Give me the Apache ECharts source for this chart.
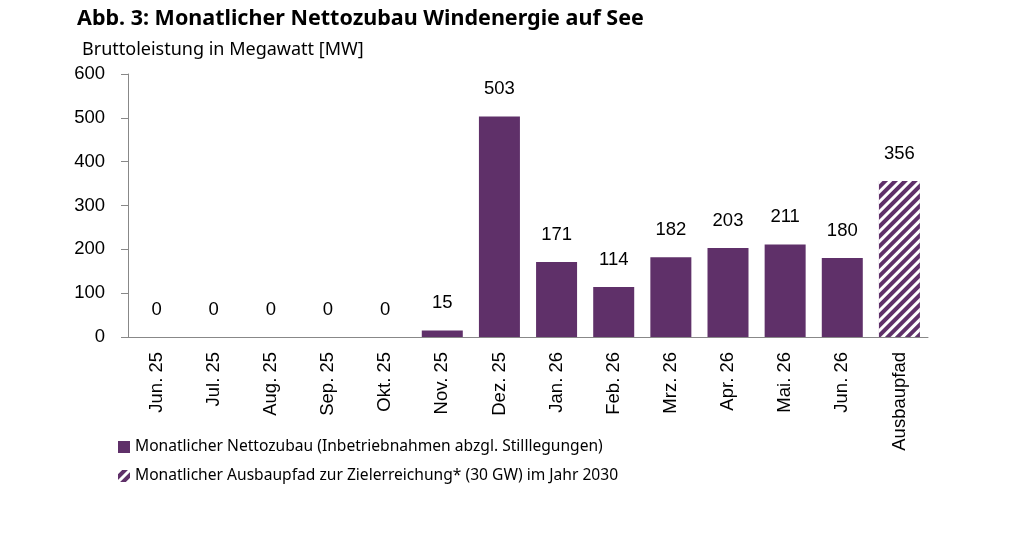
<!DOCTYPE html>
<html>
<head>
<meta charset="utf-8">
<script src="https://cdn.jsdelivr.net/npm/echarts@6/dist/echarts.min.js"></script>
<style>
  html, body { margin: 0; padding: 0; background: #fff; }
  #chart { width: 1024px; height: 559px; }
</style>
</head>
<body>
<div id="chart"></div>
<script>
// Monate + Ausbaupfad
const categories = ["Jun. 25", "Jul. 25", "Aug. 25", "Sep. 25", "Okt. 25", "Nov. 25", "Dez. 25",
  "Jan. 26", "Feb. 26", "Mrz. 26", "Apr. 26", "Mai. 26", "Jun. 26", "Ausbaupfad"];
// Nettozubau je Monat in MW
const nettozubau = [0, 0, 0, 0, 0, 15, 503, 171, 114, 182, 203, 211, 180, "-"];
// Ausbaupfad (nur letzte Kategorie)
const ausbaupfad = ["-", "-", "-", "-", "-", "-", "-", "-", "-", "-", "-", "-", "-", 356];
const yTicks = [0, 100, 200, 300, 400, 500, 600];

const lila = "#5f3069";
const labelFont = "'Liberation Sans', Arial, sans-serif";
const textFont = "'Noto Sans', sans-serif";

let chart = echarts.init(document.getElementById("chart"));
chart.setOption({
  animation: false,
  title: [
    {
      text: "Abb. 3: Monatlicher Nettozubau Windenergie auf See",
      left: 72, top: 3,
      textStyle: { fontFamily: textFont, fontSize: 21.5, fontWeight: "bold", color: "#000" }
    },
    {
      text: "Bruttoleistung in Megawatt [MW]",
      left: 77, top: 36,
      textStyle: { fontFamily: textFont, fontSize: 18, fontWeight: "normal", color: "#000" }
    }
  ],
  legend: {
    orient: "vertical",
    left: 113, top: 434,
    itemWidth: 12, itemHeight: 12, itemGap: 13,
    icon: "rect",
    textStyle: { fontFamily: textFont, fontSize: 15.6, color: "#000" },
    data: ["Monatlicher Nettozubau (Inbetriebnahmen abzgl. Stilllegungen)",
      "Monatlicher Ausbaupfad zur Zielerreichung* (30 GW) im Jahr 2030"]
  },
  grid: { left: 128, right: 96, top: 74, bottom: 222 },
  xAxis: {
    type: "category",
    data: categories,
    axisLine: { lineStyle: { color: "#888", width: 1 } },
    axisTick: { show: false },
    axisLabel: { rotate: 90, margin: 15, fontFamily: labelFont, fontSize: 18.5, color: "#000" }
  },
  yAxis: {
    type: "value",
    min: yTicks[0], max: yTicks[yTicks.length - 1], interval: 100,
    splitLine: { show: false },
    axisLine: { show: true, lineStyle: { color: "#888", width: 1 } },
    axisTick: { show: true, length: 7, lineStyle: { color: "#888" } },
    axisLabel: { margin: 23, fontFamily: labelFont, fontSize: 18.5, color: "#000" }
  },
  series: [
    {
      name: "Monatlicher Nettozubau (Inbetriebnahmen abzgl. Stilllegungen)",
      type: "bar",
      stack: "a",
      barWidth: 41,
      data: nettozubau,
      itemStyle: { color: lila },
      label: { show: true, position: "top", distance: 18, fontFamily: labelFont, fontSize: 18.5, color: "#000" }
    },
    {
      name: "Monatlicher Ausbaupfad zur Zielerreichung* (30 GW) im Jahr 2030",
      type: "bar",
      stack: "a",
      barWidth: 41,
      data: ausbaupfad,
      itemStyle: {
        color: lila,
        decal: {
          symbol: "rect",
          color: "#ffffff",
          dashArrayX: [1, 0],
          dashArrayY: [3, 4],
          rotation: -Math.PI / 4
        }
      },
      label: { show: true, position: "top", distance: 18, fontFamily: labelFont, fontSize: 18.5, color: "#000" }
    }
  ]
});
</script>
</body>
</html>
